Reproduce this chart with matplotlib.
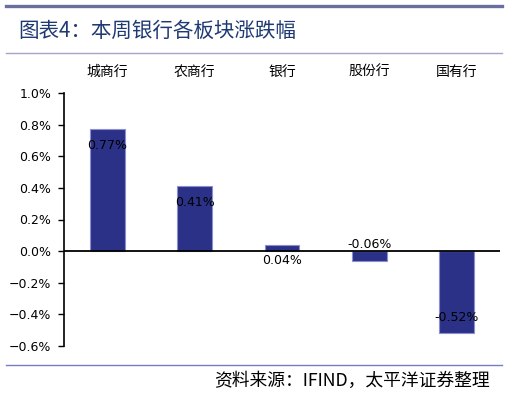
import matplotlib
matplotlib.use("Agg")
import matplotlib.pyplot as plt
from matplotlib.lines import Line2D
from matplotlib.ticker import FuncFormatter

plt.rcParams['font.family'] = ['Noto Sans CJK SC', 'DejaVu Sans']

categories = ["城商行", "农商行", "银行", "股份行", "国有行"]
values = [0.77, 0.41, 0.04, -0.06, -0.52]
yticks = [-0.6, -0.4, -0.2, 0.0, 0.2, 0.4, 0.6, 0.8, 1.0]

W, H = 507, 393
fig = plt.figure(figsize=(W / 100, H / 100), dpi=100)

# decorative lines
fig.add_artist(Line2D([6 / W, 502 / W], [1 - 6 / H, 1 - 6 / H], color="#6b6f9f", lw=2.4))
fig.add_artist(Line2D([6 / W, 502 / W], [1 - 53 / H, 1 - 53 / H], color="#a3a5c9", lw=1.0))
fig.add_artist(Line2D([6 / W, 502 / W], [1 - 365 / H, 1 - 365 / H], color="#7a7cc0", lw=1.0))

fig.text(18 / W, 1 - 31 / H, "图表4：本周银行各板块涨跌幅", color="#1f3a73",
         fontsize=14.8, va="center", ha="left")
fig.text(490 / W, 1 - 381 / H, "资料来源：IFIND，太平洋证券整理", color="#000000",
         fontsize=12.8, va="center", ha="right", style="italic")

ax = fig.add_axes([64 / W, 1 - 346 / H, (500 - 64) / W, (346 - 93) / H])
x = list(range(len(categories)))
ax.bar(x, values, width=0.4, color="#2b3187", edgecolor="#8b8fd0", linewidth=0.8, zorder=2)
ax.set_xlim(-0.5, len(categories) - 0.5)
ax.set_ylim(-0.6, 1.0)
ax.axhline(0, color="black", lw=1.3, zorder=3)

for xi, v in zip(x, values):
    yv = v - 0.1 if v > 0 else v + 0.1
    ax.text(xi, yv, f"{v:.2f}%", ha="center", va="center", fontsize=9,
            color="black", family=["DejaVu Sans"], zorder=4)

ax.set_yticks(yticks)
ax.yaxis.set_major_formatter(FuncFormatter(lambda v, p: f"{v:.1f}%".replace("-", "−")))
ax.tick_params(axis="y", direction="out", length=4, width=1, labelsize=9, pad=5)
for lbl in ax.get_yticklabels():
    lbl.set_family(["DejaVu Sans"])

ax.xaxis.set_ticks_position("top")
ax.set_xticks(x)
ax.set_xticklabels(categories, fontsize=10)
ax.tick_params(axis="x", length=0, pad=10)

for s in ["top", "right", "bottom"]:
    ax.spines[s].set_visible(False)
ax.spines["left"].set_linewidth(1.2)

fig.savefig("out.png", dpi=100)
